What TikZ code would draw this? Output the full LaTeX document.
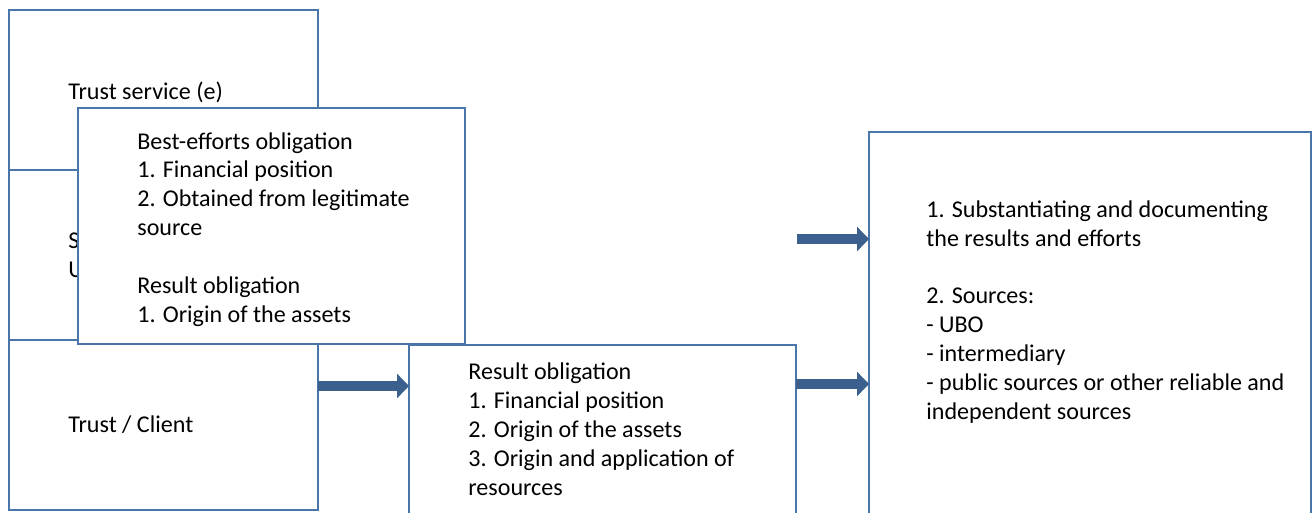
\documentclass[tikz,border=0pt]{standalone}
\usepackage{fontspec}
\setmainfont{Carlito}
\usetikzlibrary{arrows.meta, positioning}
\definecolor{edgeblue}{RGB}{74,117,168}
\definecolor{arrowblue}{RGB}{59,96,141}

\begin{document}
\begin{tikzpicture}[
  x=0.02cm, y=-0.02cm,
  box/.style={draw=edgeblue, line width=1.2pt, fill=white, anchor=north west,
              inner sep=0pt, outer sep=0pt},
  lbl/.style={anchor=base west, inner sep=0pt, align=left,
              font=\fontsize{13.7}{16.4}\selectfont},
  arr/.style={-{Triangle[width=0.48cm, length=0.24cm]}, line width=0.2cm,
              draw=arrowblue}
]
  \useasboundingbox (0,0) rectangle (1316,512);

  % Left column (labels placed by their last baseline)
  \node[box, minimum width=6.18cm, minimum height=3.2cm] (svc) at (9,10) {};
  \node[lbl] (svc-txt) at (68,99) {Trust service (e)};
  \node[box, minimum width=6.18cm, minimum height=3.4cm] (ubo) at (9,170) {};
  \node[lbl] (ubo-txt) at (68,277) {S\\U};
  \node[box, minimum width=6.18cm, minimum height=3.4cm] (client) at (9,340) {};
  \node[lbl] (client-txt) at (68,432) {Trust / Client};

  % Obligations
  \node[box, minimum width=7.74cm, minimum height=4.72cm] (efforts) at (78,108) {};
  \node[lbl] (efforts-txt) at (137,322)
       {Best-efforts obligation\\1. Financial position\\2. Obtained from legitimate\\source\\[16.4pt]
        Result obligation\\1. Origin of the assets};
  \node[box, minimum width=7.74cm, minimum height=4cm] (results) at (409,345) {};
  \node[lbl] (results-txt) at (468,495)
       {Result obligation\\1. Financial position\\2. Origin of the assets\\3. Origin and application of\\resources};

  % Substantiation
  \node[box, minimum width=8.84cm, minimum height=8.4cm] (proof) at (869,132) {};
  \node[lbl] (proof-txt) at (926,419)
       {1. Substantiating and documenting\\the results and efforts\\[16.4pt]
        2. Sources:\\- UBO\\- intermediary\\- public sources or other reliable and\\independent sources};

  \coordinate (feed) at (797,239);
  \draw[arr] (client.east |- 0,386) -- (results.west |- 0,386);
  \draw[arr] (feed) -- (proof.west |- feed);
  \draw[arr] (results.east |- 0,384) -- (proof.west |- 0,384);
\end{tikzpicture}
\end{document}
